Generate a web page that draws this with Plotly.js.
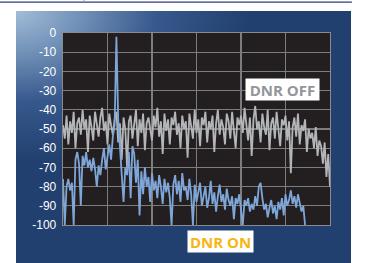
<!DOCTYPE html>
<html>
<head>
<meta charset="utf-8">
<script src="https://cdn.plot.ly/plotly-3.0.1.min.js"></script>
<style>
  html, body { margin: 0; padding: 0; background: #ffffff; }
  #wrap { position: relative; width: 369px; height: 263px; overflow: hidden; }
  #panel { position: absolute; left: 16px; top: 11px; width: 335px; height: 252px;
    background: radial-gradient(ellipse 70% 60% at 0% 0%, #a3bdd8 0%, #6d8db5 30%, #37588c 60%, #21406f 100%); }
  #chart { position: absolute; left: 0; top: 0; width: 369px; height: 263px; }
</style>
</head>
<body>
<div id="wrap">
  <div id="panel"></div>
  <div id="chart"></div>
</div>
<script>
// ---- data ----
const yTickVals = [0, -10, -20, -30, -40, -50, -60, -70, -80, -90, -100];
const yTickText = ["0", "-10", "-20", "-30", "-40", "-50", "-60", "-70", "-80", "-90", "-100"];

// DNR OFF (grey), x from 0 to 6 in steps of 0.04
const offValues = [
  -48,-55,-43,-58,-46,-52,-41,-60,-47,-44,
  -53,-40,-50,-45,-62,-43,-49,-56,-41,-47,
  -54,-44,-39,-51,-46,-58,-42,-48,-53,-45,
  -41,-57,-47,-66,-44,-50,-70,-46,-43,-55,
  -48,-40,-59,-45,-52,-42,-61,-47,-44,-50,
  -56,-43,-49,-39,-54,-46,-63,-42,-51,-45,
  -58,-44,-48,-41,-53,-47,-60,-43,-50,-46,
  -65,-42,-49,-55,-40,-52,-45,-59,-44,-48,
  -41,-57,-46,-50,-43,-62,-47,-40,-53,-45,
  -49,-58,-42,-46,-55,-41,-51,-60,-44,-48,
  -43,-52,-39,-47,-56,-44,-64,-45,-38,-50,
  -46,-57,-42,-49,-53,-40,-61,-47,-44,-55,
  -41,-50,-59,-45,-48,-43,-56,-46,-73,-49,
  -44,-54,-42,-58,-48,-51,-45,-62,-50,-55,
  -52,-60,-49,-64,-56,-59,-68,-57,-75,-63,
  -80
];
const offX = offValues.map((v, i) => +(i * 0.04).toFixed(2));

// DNR ON (blue), x from 0 to 5.44 in steps of 0.04
const onValues = [
  -76,-100,-80,-76,-82,-78,-100,-66,-62,-68,
  -90,-64,-69,-62,-70,-66,-72,-65,-71,-80,
  -69,-74,-66,-60,-71,-63,-58,-66,-54,-48,
  -2,-45,-58,-72,-88,-70,-74,-62,-86,-59,
  -63,-78,-66,-95,-72,-84,-70,-80,-75,-88,
  -73,-82,-77,-86,-74,-80,-89,-76,-83,-78,
  -86,-100,-79,-74,-84,-77,-88,-73,-82,-80,
  -87,-76,-84,-100,-79,-88,-82,-78,-90,-84,
  -80,-91,-86,-77,-89,-83,-93,-85,-79,-88,
  -84,-92,-81,-87,-90,-85,-97,-86,-89,-84,
  -91,-100,-87,-90,-86,-93,-89,-92,-85,-90,
  -80,-78,-86,-92,-89,-96,-91,-87,-94,-90,
  -97,-88,-92,-86,-95,-84,-90,-87,-82,-89,
  -85,-91,-84,-88,-93,-90,-100
];
const onX = onValues.map((v, i) => +(i * 0.04).toFixed(2));

const labelOff = "DNR OFF";
const labelOn = "DNR ON";

// ---- chart ----
const traces = [
  { x: offX, y: offValues, type: "scatter", mode: "lines",
    line: { color: "#b3b5b8", width: 1.8 }, hoverinfo: "skip" },
  { x: onX, y: onValues, type: "scatter", mode: "lines",
    line: { color: "#7ea6d8", width: 1.8 }, hoverinfo: "skip" }
];

const layout = {
  width: 369, height: 263,
  margin: { l: 63, r: 39, t: 33, b: 38, pad: 0 },
  paper_bgcolor: "rgba(0,0,0,0)",
  plot_bgcolor: "#231f20",
  showlegend: false,
  xaxis: {
    range: [0, 6], dtick: 1, tick0: 0,
    showgrid: true, gridcolor: "#7d7d7d", gridwidth: 1.3,
    showticklabels: false, zeroline: false, ticks: "",
    showline: true, mirror: true, linecolor: "#8a8a8a", linewidth: 1.3
  },
  yaxis: {
    range: [-100, 0], tickvals: yTickVals, ticktext: yTickText,
    showgrid: true, gridcolor: "#7d7d7d", gridwidth: 1.3,
    zeroline: false, ticks: "", ticklabelstandoff: 3,
    tickfont: { family: "Liberation Sans Narrow, Liberation Sans, Arial, sans-serif", size: 12, color: "#ffffff" },
    showline: true, mirror: true, linecolor: "#8a8a8a", linewidth: 1.3
  },
  shapes: [
    { type: "line", xref: "paper", yref: "paper",
      x0: -0.236, x1: 1.082, y0: 1.161, y1: 1.161,
      line: { color: "#2b3f7a", width: 1.2 } },
    { type: "line", xref: "paper", yref: "paper",
      x0: 0.079, x1: 0.079, y0: 1.161, y1: 1.172,
      line: { color: "#9a9a9a", width: 1 } }
  ],
  annotations: [
    { text: "<b>" + labelOff + "</b>", xref: "paper", yref: "paper",
      x: 0.822, y: 0.706, xanchor: "center", yanchor: "middle",
      showarrow: false, bgcolor: "#ffffff", width: 73, height: 21, borderpad: 0,
      font: { family: "Open Sans, sans-serif", size: 15, color: "#939598" } },
    { text: "<b>" + labelOn + "</b>", xref: "paper", yref: "paper",
      x: 0.590, y: -0.086, xanchor: "center", yanchor: "middle",
      showarrow: false, bgcolor: "#ffffff", width: 65, height: 21, borderpad: 0,
      font: { family: "Open Sans, sans-serif", size: 15, color: "#f7b515" } }
  ]
};

Plotly.newPlot("chart", traces, layout, { displayModeBar: false, staticPlot: true });
</script>
</body>
</html>
